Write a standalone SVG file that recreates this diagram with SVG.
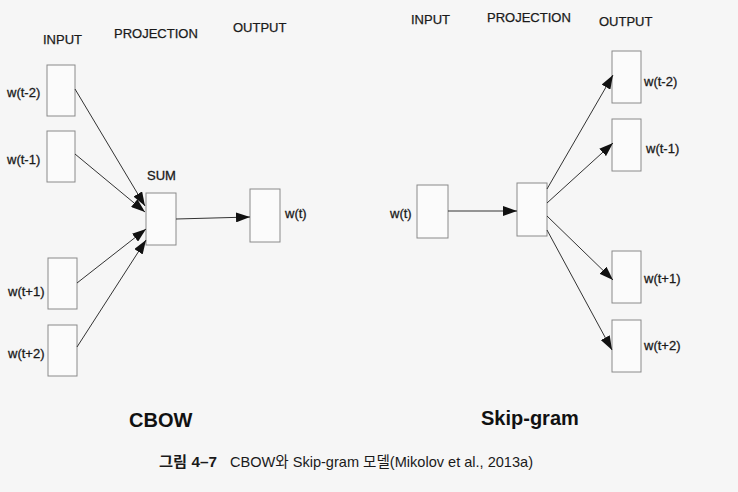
<svg xmlns="http://www.w3.org/2000/svg" width="738" height="492" viewBox="0 0 738 492">
<style>
.bg{fill:#f6f6f6}
.box{fill:#fbfbfb;stroke:#8a8a8a;stroke-width:1}
.hdr{font-family:"Liberation Sans",Arial,sans-serif;font-size:13px;fill:#1a1a1a;stroke:#1a1a1a;stroke-width:0.25}
.lbl{font-family:"Liberation Sans",Arial,sans-serif;font-size:13px;fill:#1a1a1a;stroke:#1a1a1a;stroke-width:0.3}
.title{font-family:"Liberation Sans",Arial,sans-serif;font-size:20px;font-weight:bold;fill:#111}
.cap{font-family:"Liberation Sans","Noto Sans CJK KR",sans-serif;font-size:14.5px;fill:#1a1a1a}
.edge{stroke:#333;stroke-width:1;fill:none;marker-end:url(#ah)}
</style>
<defs>
<marker id="ah" markerUnits="userSpaceOnUse" markerWidth="15" markerHeight="10" refX="14" refY="5" orient="auto">
<path d="M0,0 L14,5 L0,10 z" fill="#111"/>
</marker>
</defs>
<rect class="bg" x="0" y="0" width="738" height="492"/>

<g id="cbow-headers">
<text class="hdr" x="43" y="44">INPUT</text>
<text class="hdr" x="114" y="38">PROJECTION</text>
<text class="hdr" x="233" y="32">OUTPUT</text>
</g>

<g id="cbow-in-t-2"><rect class="box" x="47" y="65" width="28" height="51"/><text class="lbl" x="7" y="97">w(t-2)</text></g>
<g id="cbow-in-t-1"><rect class="box" x="47" y="131" width="28" height="51"/><text class="lbl" x="7" y="164">w(t-1)</text></g>
<g id="cbow-in-t+1"><rect class="box" x="48" y="258" width="29" height="51"/><text class="lbl" x="8" y="296">w(t+1)</text></g>
<g id="cbow-in-t+2"><rect class="box" x="48" y="325" width="29" height="51"/><text class="lbl" x="8" y="358">w(t+2)</text></g>
<g id="cbow-sum"><rect class="box" x="146" y="193" width="30" height="52"/><text class="lbl" x="147" y="180">SUM</text></g>
<g id="cbow-out"><rect class="box" x="250" y="189" width="30" height="53"/><text class="lbl" x="285" y="218">w(t)</text></g>
<g id="cbow-title"><text class="title" x="129" y="427">CBOW</text></g>

<g id="sg-headers">
<text class="hdr" x="411" y="24">INPUT</text>
<text class="hdr" x="487" y="22">PROJECTION</text>
<text class="hdr" x="599" y="26">OUTPUT</text>
</g>

<g id="sg-in"><rect class="box" x="417" y="185" width="31" height="53"/><text class="lbl" x="390" y="218">w(t)</text></g>
<g id="sg-proj"><rect class="box" x="517" y="183" width="30" height="53"/></g>
<g id="sg-out-t-2"><rect class="box" x="612" y="51" width="29" height="52"/><text class="lbl" x="644" y="86">w(t-2)</text></g>
<g id="sg-out-t-1"><rect class="box" x="612" y="119" width="29" height="52"/><text class="lbl" x="646" y="153">w(t-1)</text></g>
<g id="sg-out-t+1"><rect class="box" x="612" y="251" width="29" height="52"/><text class="lbl" x="644" y="283">w(t+1)</text></g>
<g id="sg-out-t+2"><rect class="box" x="612" y="320" width="29" height="52"/><text class="lbl" x="644" y="350">w(t+2)</text></g>
<g id="sg-title"><text class="title" x="481" y="425">Skip-gram</text></g>

<g id="connectors">
<line class="edge" x1="75" y1="89" x2="145" y2="206"/>
<line class="edge" x1="75" y1="154" x2="145" y2="212"/>
<line class="edge" x1="77" y1="283" x2="146" y2="229"/>
<line class="edge" x1="77" y1="347" x2="146" y2="240"/>
<line class="edge" x1="176" y1="219" x2="250" y2="217"/>
<line class="edge" x1="448" y1="211" x2="517" y2="211"/>
<line class="edge" x1="547" y1="189" x2="613" y2="75"/>
<line class="edge" x1="547" y1="203" x2="613" y2="143"/>
<line class="edge" x1="547" y1="216" x2="613" y2="280"/>
<line class="edge" x1="547" y1="230" x2="612" y2="350"/>
</g>

<g id="caption">
<text class="cap" x="159" y="467" font-weight="bold" textLength="58" lengthAdjust="spacingAndGlyphs">그림 4–7</text>
<text class="cap" x="230" y="467" textLength="303" lengthAdjust="spacingAndGlyphs">CBOW와 Skip-gram 모델(Mikolov et al., 2013a)</text>
</g>
</svg>
